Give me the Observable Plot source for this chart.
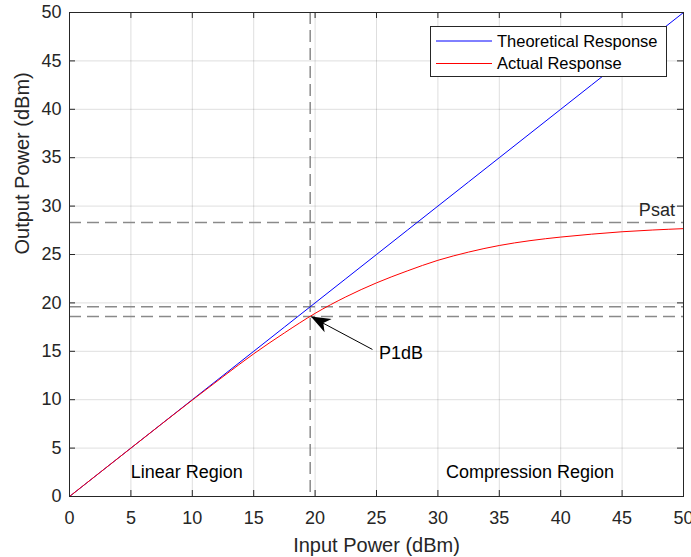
<!DOCTYPE html>
<html><head><meta charset="utf-8">
<script src="https://cdn.jsdelivr.net/npm/d3@7"></script>
<script src="https://cdn.jsdelivr.net/npm/@observablehq/plot@0.6"></script>
<style>
body{margin:0;background:#fff;}
#chart{position:relative;width:691px;height:557px;}
</style>
</head><body><div id="chart"></div>
<script>
// ---- data ----
const inputPower   = [0, 2.5, 5, 7.5, 10, 12.5, 15, 17.5, 20, 22.5, 25, 27.5, 30, 32.5, 35, 37.5, 40, 42.5, 45, 47.5, 50];
const theoretical  = [0, 2.5, 5, 7.5, 10, 12.5, 15, 17.5, 20, 22.5, 25, 27.5, 30, 32.5, 35, 37.5, 40, 42.5, 45, 47.5, 50];
const actual       = [0, 2.5, 5, 7.49, 9.96, 12.38, 14.74, 16.9, 18.92, 20.62, 22.07, 23.3, 24.4, 25.25, 25.93, 26.43, 26.8, 27.1, 27.35, 27.53, 27.67];
const seriesNames  = ["Theoretical Response", "Actual Response"];
const seriesColors = ["#0000ff", "#ff0000"];
const xTicks = [0, 5, 10, 15, 20, 25, 30, 35, 40, 45, 50];
const yTicks = [0, 5, 10, 15, 20, 25, 30, 35, 40, 45, 50];
const hRefLines = [28.3, 19.6, 18.6];   // Psat and P1dB levels
const vRefLines = [19.6];               // P1dB input
const regionLabels = ["Linear Region", "Compression Region"];
const regionX = [9.55, 37.5];
const regionY = [2.5, 2.5];
const psatLabel = ["Psat"]; const psatX = [49.3]; const psatY = [29.6];
const p1dbLabel = ["P1dB"]; const p1dbX = [25.2]; const p1dbY = [14.8];
const arrowFrom = [24.67, 15.19];
const arrowTo   = [19.7, 18.55];

// ---- layout ----
const W = 691, H = 557, mL = 69, mR = 8, mT = 12, mB = 61;
const innerW = W - mL - mR, innerH = H - mT - mB;
const dark = "#262626";

const theo = inputPower.map((x, i) => ({x, y: theoretical[i]}));
const act  = inputPower.map((x, i) => ({x, y: actual[i]}));

const chart = Plot.plot({
  width: W, height: H,
  marginLeft: mL, marginRight: mR, marginTop: mT, marginBottom: mB,
  style: {fontFamily: "'Liberation Sans', Arial, sans-serif", fontSize: "18px", color: dark, background: "#fff"},
  x: {domain: [0, 50], ticks: xTicks, label: null},
  y: {domain: [0, 50], ticks: yTicks, label: null},
  marks: [
    Plot.gridX(xTicks, {stroke: "#000", strokeOpacity: 0.13}),
    Plot.gridY(yTicks, {stroke: "#000", strokeOpacity: 0.13}),
    Plot.ruleY(hRefLines, {stroke: "#8a8a8a", strokeWidth: 1.5, strokeDasharray: "12 6"}),
    Plot.ruleX(vRefLines, {stroke: "#8a8a8a", strokeWidth: 1.5, strokeDasharray: "12 6"}),
    Plot.line(theo, {x: "x", y: "y", stroke: seriesColors[0], strokeWidth: 1}),
    Plot.line(act, {x: "x", y: "y", stroke: seriesColors[1], strokeWidth: 1, curve: "monotone-x"}),
    // inward ticks
    Plot.ruleY(yTicks, {stroke: dark, insetRight: innerW - 6}),
    Plot.ruleY(yTicks, {stroke: dark, insetLeft: innerW - 6}),
    Plot.ruleX(xTicks, {stroke: dark, insetTop: innerH - 6}),
    Plot.ruleX(xTicks, {stroke: dark, insetBottom: innerH - 6}),
    Plot.frame({stroke: dark}),
    Plot.axisX({ticks: xTicks, tickSize: 0, tickPadding: 15, label: null, fontSize: 18}),
    Plot.axisY({ticks: yTicks, tickSize: 0, tickPadding: 8, label: null, fontSize: 18}),
    Plot.text(["Input Power (dBm)"], {frameAnchor: "bottom", dy: 49, fontSize: 20, lineAnchor: "middle", fill: dark}),
    Plot.text(["Output Power (dBm)"], {frameAnchor: "left", dx: -47, rotate: -90, fontSize: 20, lineAnchor: "middle", fill: dark}),
    Plot.text(regionLabels, {x: (d, i) => regionX[i], y: (d, i) => regionY[i], text: d => d, fontSize: 18, fill: "#000"}),
    Plot.text(psatLabel, {x: (d, i) => psatX[i], y: (d, i) => psatY[i], text: d => d, textAnchor: "end", fontSize: 18, fill: dark}),
    Plot.text(p1dbLabel, {x: (d, i) => p1dbX[i], y: (d, i) => p1dbY[i], text: d => d, textAnchor: "start", fontSize: 18, fill: "#000"}),
    Plot.link([0], {x1: () => arrowFrom[0], y1: () => arrowFrom[1], x2: () => arrowTo[0], y2: () => arrowTo[1], stroke: "#000", strokeWidth: 1})
  ]
});
document.getElementById("chart").appendChild(chart);

// arrowhead (filled, MATLAB style) using the plot's scales
const sx = chart.scale("x"), sy = chart.scale("y");
const tip = [sx.apply(arrowTo[0]), sy.apply(arrowTo[1])];
const tail = [sx.apply(arrowFrom[0]), sy.apply(arrowFrom[1])];
const len = Math.hypot(tail[0] - tip[0], tail[1] - tip[1]);
const u = [(tail[0] - tip[0]) / len, (tail[1] - tip[1]) / len];
const n = [-u[1], u[0]];
const L = 19.5, w = 7.5, notch = 14;
const pts = [
  tip,
  [tip[0] + u[0] * L + n[0] * w, tip[1] + u[1] * L + n[1] * w],
  [tip[0] + u[0] * notch, tip[1] + u[1] * notch],
  [tip[0] + u[0] * L - n[0] * w, tip[1] + u[1] * L - n[1] * w]
];
const svg = d3.select(chart);
svg.append("polygon").attr("points", pts.map(p => p.join(",")).join(" ")).attr("fill", "#000");

// legend
const lg = svg.append("g").attr("font-family", "'Liberation Sans', Arial, sans-serif").attr("font-size", 16.5).attr("text-anchor", "start");
lg.append("rect").attr("x", 430.5).attr("y", 26.5).attr("width", 236).attr("height", 50)
  .attr("fill", "#fff").attr("stroke", dark).attr("stroke-width", 1);
seriesNames.forEach((name, i) => {
  const yy = 41 + i * 22.5;
  lg.append("line").attr("x1", 436).attr("x2", 492).attr("y1", yy).attr("y2", yy)
    .attr("stroke", seriesColors[i]).attr("stroke-width", 1);
  lg.append("text").attr("x", 497).attr("y", yy).attr("dy", "0.35em").attr("text-anchor", "start").attr("fill", "#000").text(name);
});
</script>
</body></html>
